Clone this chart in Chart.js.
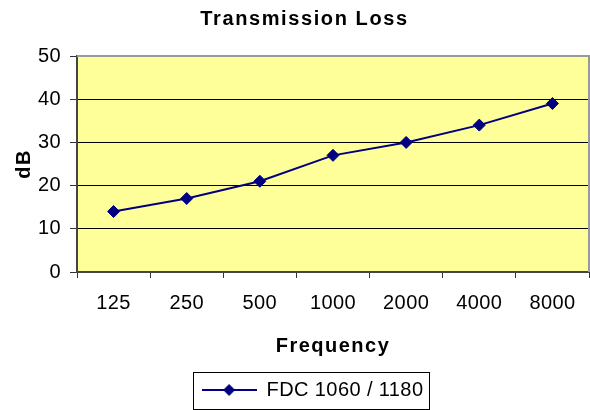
<!DOCTYPE html>
<html>
<head>
<meta charset="utf-8">
<title>Transmission Loss</title>
<script src="https://cdn.jsdelivr.net/npm/chart.js@4.4.0/dist/chart.umd.min.js"></script>
<style>
  html, body { margin: 0; padding: 0; background: #fff; }
  canvas { display: block; }
</style>
</head>
<body>
<canvas id="lossChart" width="590" height="410"></canvas>
<script>
// values
const frequencies = ['125', '250', '500', '1000', '2000', '4000', '8000'];
const lossDb = [14, 17, 21, 27, 30, 34, 39];
const yTicks = [0, 10, 20, 30, 40, 50];
const seriesName = 'FDC 1060 / 1180';

const navy = '#000080';
Chart.defaults.font.family = '"Liberation Sans", Arial, sans-serif';
Chart.defaults.font.size = 20;
Chart.defaults.color = '#000';

// legend sample: line with a diamond in the middle
const sample = document.createElement('canvas');
sample.width = 55;
sample.height = 14;
const sctx = sample.getContext('2d');
sctx.strokeStyle = navy;
sctx.lineWidth = 2;
sctx.beginPath();
sctx.moveTo(0, 7);
sctx.lineTo(55, 7);
sctx.stroke();
sctx.fillStyle = navy;
sctx.beginPath();
sctx.moveTo(27.5, 1);
sctx.lineTo(33.5, 7);
sctx.lineTo(27.5, 13);
sctx.lineTo(21.5, 7);
sctx.closePath();
sctx.fill();

// wraps a draw method so its text gets some letter spacing (Excel look)
function withSpacing(obj, method, spacing) {
  const flag = '_spaced_' + method;
  if (!obj || obj[flag]) return;
  const orig = obj[method];
  obj[method] = function (...args) {
    const c = this.ctx;
    c.letterSpacing = spacing;
    orig.apply(this, args);
    c.letterSpacing = '0px';
  };
  obj[flag] = true;
}

// yellow plot area + grey frame on top/right
const plotArea = {
  id: 'plotArea',
  beforeDraw(chart) {
    const { ctx, chartArea: a } = chart;
    ctx.save();
    ctx.fillStyle = '#FFFF99';
    ctx.fillRect(a.left, a.top, a.width, a.height);
    ctx.restore();
  },
  beforeDatasetsDraw(chart) {
    const { ctx, chartArea: a } = chart;
    ctx.save();
    ctx.strokeStyle = '#999';
    ctx.lineWidth = 2;
    ctx.beginPath();
    ctx.moveTo(a.left, a.top);
    ctx.lineTo(a.right, a.top);
    ctx.lineTo(a.right, a.bottom);
    ctx.stroke();
    ctx.restore();
  }
};

// title and legend sit a bit right of the canvas centre; spaced bold titles
const nudgeBoxes = {
  id: 'nudgeBoxes',
  afterLayout(chart) {
    chart.titleBlock.left += 10;
    chart.titleBlock.right += 10;
    chart.legend.left += 15;
    chart.legend.right += 15;
    withSpacing(chart.titleBlock, 'draw', '1.6px');
    withSpacing(chart.scales.x, 'drawTitle', '1.5px');
    withSpacing(chart.scales.y, 'drawTitle', '1.5px');
    withSpacing(chart.scales.x, 'drawLabels', '0.4px');
    withSpacing(chart.scales.y, 'drawLabels', '0.4px');
    withSpacing(chart.legend, 'draw', '0.4px');
  }
};

// box around the legend
const legendFrame = {
  id: 'legendFrame',
  afterDraw(chart) {
    const hb = chart.legend.legendHitBoxes[0];
    if (!hb) return;
    const ctx = chart.ctx;
    ctx.save();
    ctx.strokeStyle = '#000';
    ctx.lineWidth = 1;
    ctx.strokeRect(Math.round(hb.left - 9) + 0.5, chart.legend.top + 2.5, Math.round(hb.width + 20), 37);
    ctx.restore();
  }
};

const ctx = document.getElementById('lossChart').getContext('2d');
const lossChart = new Chart(ctx, {
  type: 'line',
  data: {
    labels: frequencies,
    datasets: [{
      label: seriesName,
      data: lossDb,
      borderColor: navy,
      backgroundColor: navy,
      borderWidth: 2,
      tension: 0,
      pointStyle: 'rectRot',
      pointRadius: 6,
      pointBorderWidth: 1,
      pointBackgroundColor: navy,
      pointBorderColor: navy
    }]
  },
  options: {
    responsive: false,
    animation: false,
    events: [],
    layout: { autoPadding: false, padding: { left: 0, right: 1, top: 0, bottom: 0 } },
    scales: {
      x: {
        offset: true,
        grid: { offset: true, drawOnChartArea: false, tickLength: 6, tickColor: '#333' },
        border: { color: '#444', width: 2 },
        ticks: { padding: 13, maxRotation: 0 },
        title: { display: true, text: 'Frequency', font: { weight: 'bold', size: 20 }, padding: { top: 0, bottom: 12 } },
        afterFit(scale) {
          scale.height = 98;
          scale.paddingLeft = 0;
          scale.paddingRight = 0;
        }
      },
      y: {
        min: yTicks[0],
        max: yTicks[yTicks.length - 1],
        afterBuildTicks(scale) { scale.ticks = yTicks.map(v => ({ value: v })); },
        grid: {
          color: c => (c.tick && c.tick.value === yTicks[yTicks.length - 1]) ? 'rgba(0,0,0,0)' : '#000',
          lineWidth: 1,
          tickLength: 7,
          tickColor: '#333'
        },
        border: { color: '#444', width: 2 },
        ticks: { padding: 9 },
        title: { display: true, text: 'dB', font: { weight: 'bold', size: 20 }, padding: { top: 12.5, bottom: 0 } },
        afterFit(scale) { scale.width = 77; }
      }
    },
    plugins: {
      title: {
        display: true,
        text: 'Transmission Loss',
        font: { weight: 'bold', size: 20 },
        padding: { top: 7, bottom: 25 }
      },
      legend: {
        position: 'bottom',
        labels: {
          usePointStyle: true,
          pointStyleWidth: 55,
          color: '#000',
          generateLabels(chart) {
            return Chart.defaults.plugins.legend.labels.generateLabels(chart).map(item => {
              item.pointStyle = sample;
              return item;
            });
          }
        }
      },
      tooltip: { enabled: false }
    }
  },
  plugins: [plotArea, nudgeBoxes, legendFrame]
});
// redraw once so the spacing wrappers are used
lossChart.draw();
</script>
</body>
</html>
